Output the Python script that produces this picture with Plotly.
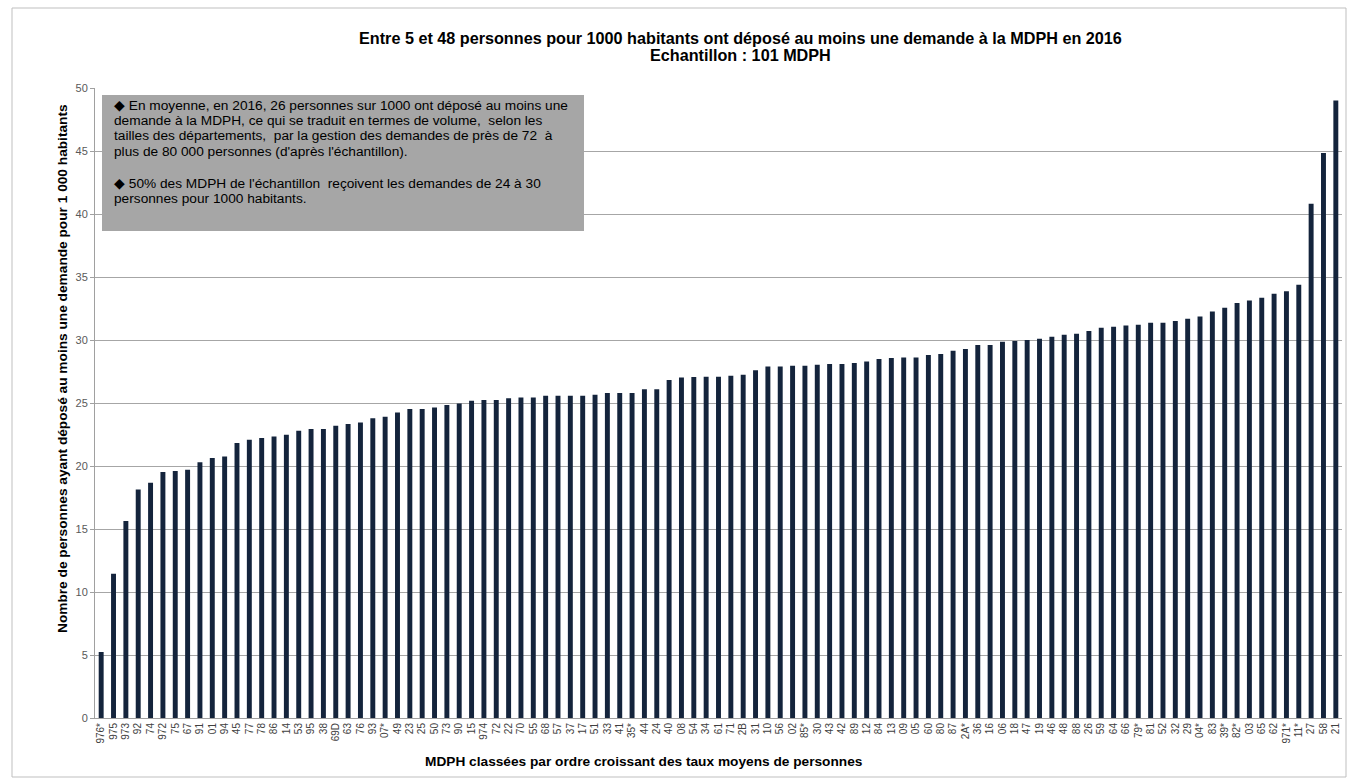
import plotly.graph_objects as go

categories = ["976*", "975", "973", "92", "74", "972", "75", "67", "91", "01",
              "94", "45", "77", "78", "86", "14", "53", "95", "38", "69D",
              "63", "76", "93", "07*", "49", "23", "25", "50", "73", "90",
              "15", "974", "72", "22", "70", "55", "68", "57", "37", "17",
              "51", "33", "41", "35*", "44", "24", "40", "08", "54", "34",
              "61", "71", "2B", "31", "10", "56", "02", "85*", "30", "43",
              "42", "89", "12", "84", "13", "09", "05", "60", "80", "87",
              "2A*", "36", "16", "06", "18", "47", "19", "46", "48", "88",
              "26", "59", "64", "66", "79*", "81", "52", "32", "29", "04*",
              "83", "39*", "82*", "03", "65", "62", "971*", "11*", "27", "58",
              "21"]

values = [5.24, 11.45, 15.63, 18.14, 18.67, 19.52, 19.6, 19.7, 20.3, 20.63,
          20.76, 21.83, 22.09, 22.22, 22.35, 22.48, 22.8, 22.94, 22.94, 23.2,
          23.33, 23.46, 23.78, 23.9, 24.25, 24.52, 24.52, 24.65, 24.84, 24.97,
          25.18, 25.24, 25.24, 25.37, 25.44, 25.44, 25.58, 25.58, 25.58, 25.58,
          25.66, 25.79, 25.79, 25.79, 26.1, 26.1, 26.83, 27.03, 27.06, 27.08,
          27.08, 27.16, 27.24, 27.59, 27.9, 27.9, 27.96, 27.96, 28.04, 28.09,
          28.09, 28.17, 28.3, 28.49, 28.57, 28.62, 28.62, 28.8, 28.89, 29.15,
          29.28, 29.6, 29.6, 29.87, 29.92, 30.0, 30.1, 30.26, 30.42, 30.5,
          30.71, 30.98, 31.06, 31.16, 31.21, 31.37, 31.37, 31.5, 31.69, 31.87,
          32.27, 32.56, 32.93, 33.14, 33.36, 33.67, 33.86, 34.39, 40.82, 44.84,
          49.0]

title_lines = ["Entre 5 et 48 personnes pour 1000 habitants ont déposé au moins une demande à la MDPH en 2016",
               "Echantillon : 101 MDPH"]
y_title = "Nombre de personnes ayant déposé au moins une demande pour 1 000 habitants"
x_title = "MDPH classées par ordre croissant des taux moyens de personnes"
box_lines = [
    "◆ En moyenne, en 2016, 26 personnes sur 1000 ont déposé au moins une",
    "demande à la MDPH, ce qui se traduit en termes de volume,  selon les",
    "tailles des départements,  par la gestion des demandes de près de 72  à",
    "plus de 80 000 personnes (d'après l'échantillon).",
    "",
    "◆ 50% des MDPH de l'échantillon  reçoivent les demandes de 24 à 30",
    "personnes pour 1000 habitants.",
]

W, H = 1348, 784
L, R, T, B = 95, 6, 88, 66
pw, ph = W - L - R, H - T - B


def px_x(x):
    return (x - L) / pw


def px_y(y):
    return 1 - (y - T) / ph


FONT = "Liberation Sans, Arial, sans-serif"

fig = go.Figure(go.Bar(x=categories, y=values, marker_color="#14243c",
                       marker_line_width=0, width=0.4))

fig.update_layout(
    width=W, height=H,
    margin=dict(l=L, r=R, t=T, b=B, pad=0),
    paper_bgcolor="white", plot_bgcolor="white",
    font=dict(family=FONT, color="#000000"),
    showlegend=False,
    bargap=0.6,
    xaxis=dict(type="category", tickangle=-90, tickfont=dict(size=10, color="#404040"),
               showline=True, linecolor="#a0a0a0", linewidth=1, ticks="",
               showgrid=False, range=[-0.5, len(categories) - 0.5]),
    yaxis=dict(range=[0, 50], dtick=5, tick0=0, showgrid=True, gridcolor="#a6a6a6",
               gridwidth=1, zeroline=False, showline=True, linecolor="#a0a0a0",
               linewidth=1, ticks="outside", ticklen=4, tickcolor="#a0a0a0",
               tickfont=dict(size=11, color="#595959")),
)

shapes = [
    dict(type="rect", xref="paper", yref="paper",
         x0=px_x(102), x1=px_x(584), y0=px_y(231), y1=px_y(95),
         fillcolor="#a6a6a6", line=dict(width=0), layer="above"),
    dict(type="rect", xref="paper", yref="paper",
         x0=px_x(12), x1=px_x(1346), y0=px_y(777), y1=px_y(8),
         fillcolor="rgba(0,0,0,0)", line=dict(width=1, color="#bfbfbf"), layer="below"),
]
fig.update_layout(shapes=shapes)

annotations = [
    dict(text="<b>" + title_lines[0] + "</b>", xref="paper", yref="paper", x=px_x(740), y=px_y(38),
         xanchor="center", yanchor="middle", showarrow=False,
         font=dict(size=16.2, color="#000000", family=FONT)),
    dict(text="<b>" + title_lines[1] + "</b>", xref="paper", yref="paper", x=px_x(740), y=px_y(55),
         xanchor="center", yanchor="middle", showarrow=False,
         font=dict(size=16.2, color="#000000", family=FONT)),
    dict(text="<b>" + y_title + "</b>", xref="paper", yref="paper", x=px_x(62), y=px_y(369),
         xanchor="center", yanchor="middle", textangle=-90, showarrow=False,
         font=dict(size=13.7, color="#000000", family=FONT)),
    dict(text="<b>" + x_title + "</b>", xref="paper", yref="paper", x=px_x(644), y=px_y(761),
         xanchor="center", yanchor="middle", showarrow=False,
         font=dict(size=13.7, color="#000000", family=FONT)),
]
line_y = [105, 120.5, 136, 151.5, 167, 183, 198.5]
for txt, yy in zip(box_lines, line_y):
    if not txt:
        continue
    annotations.append(dict(text=txt, xref="paper", yref="paper", x=px_x(112), y=px_y(yy),
                            xanchor="left", yanchor="middle", align="left", showarrow=False,
                            font=dict(size=13.7, color="#000000", family=FONT)))
fig.update_layout(annotations=annotations)

fig.write_html("out.html")
